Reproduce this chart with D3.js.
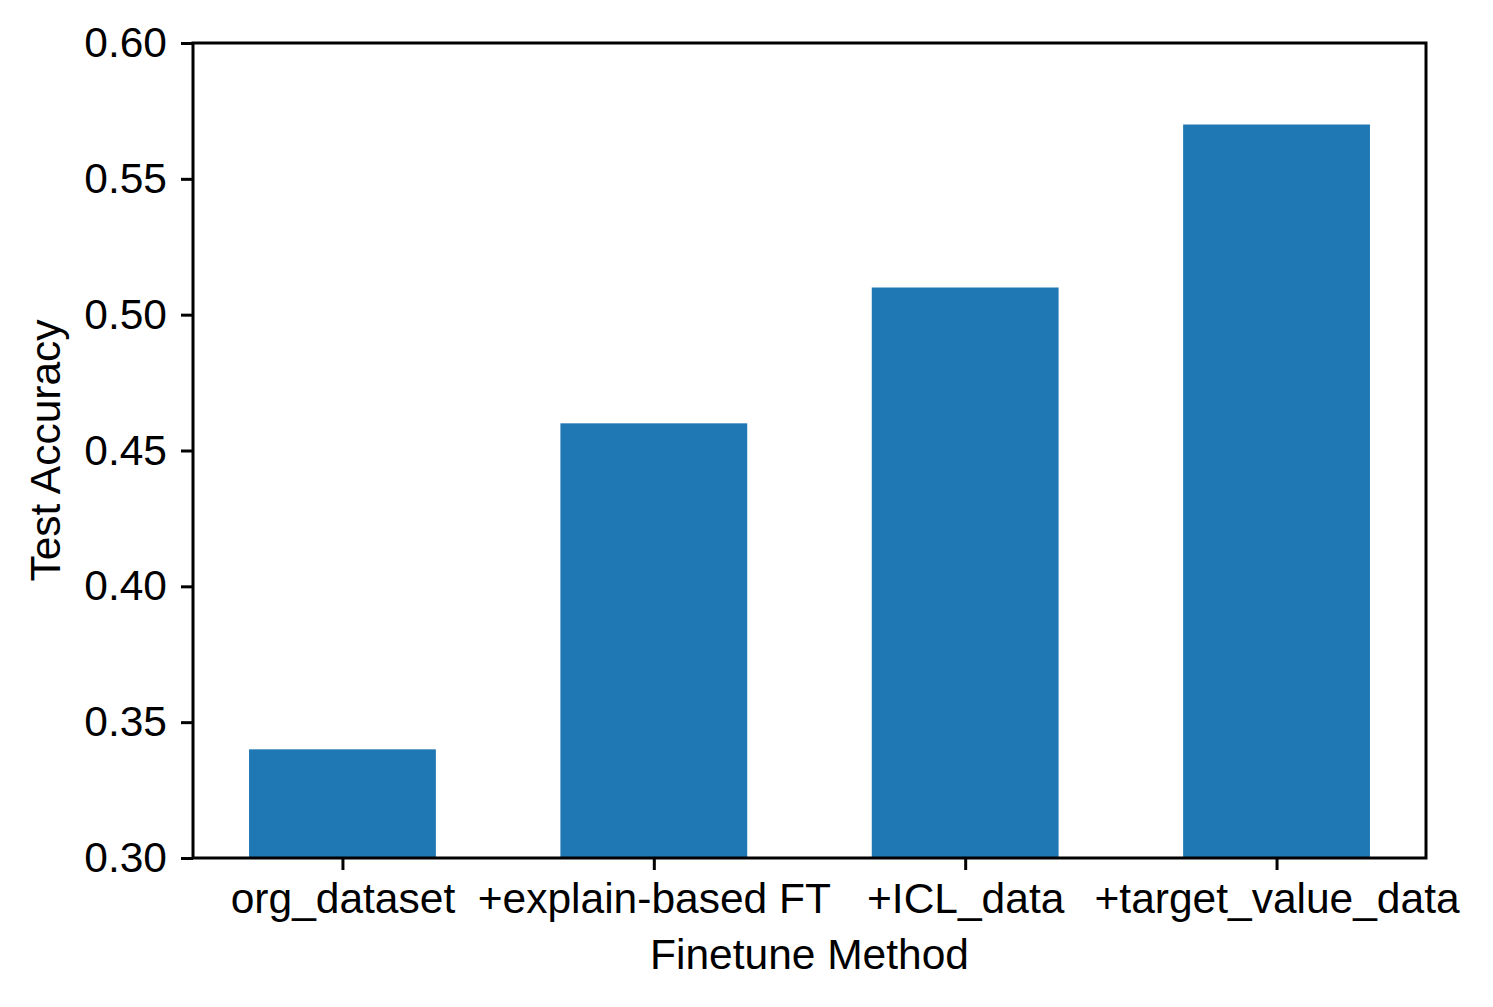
<!DOCTYPE html>
<html>
<head>
<meta charset="utf-8">
<script src="https://cdn.jsdelivr.net/npm/d3@7"></script>
<style>
html,body{margin:0;padding:0;background:#fff;}
svg{display:block;font-family:"Liberation Sans",Arial,Helvetica,sans-serif;}
</style>
</head>
<body>
<script>
const categories = ["org_dataset", "+explain-based FT", "+ICL_data", "+target_value_data"];
const values = [0.34, 0.46, 0.51, 0.57];
const yTicks = [0.30, 0.35, 0.40, 0.45, 0.50, 0.55, 0.60];
const xTitle = "Finetune Method";
const yTitle = "Test Accuracy";

const W = 1493, H = 1007;
const m = {left: 193, right: 1426, top: 43, bottom: 858};
const svg = d3.select("body").append("svg").attr("width", W).attr("height", H);

const x = d3.scaleLinear().domain([-0.48, categories.length - 1 + 0.48]).range([m.left, m.right]);
const y = d3.scaleLinear().domain([0.30, 0.60]).range([m.bottom, m.top]);
const barW = x(0.6) - x(0);

svg.append("g").selectAll("rect").data(values).join("rect")
  .attr("x", (d, i) => x(i - 0.3))
  .attr("y", d => y(d))
  .attr("width", barW)
  .attr("height", d => y(0.30) - y(d))
  .attr("fill", "#1f77b4");

const fs = 42.5;
const xAxis = svg.append("g").attr("transform", `translate(0,${m.bottom})`)
  .call(d3.axisBottom(x).tickValues(d3.range(categories.length)).tickFormat(i => categories[i]).tickSize(12).tickPadding(14));
const yAxis = svg.append("g").attr("transform", `translate(${m.left},0)`)
  .call(d3.axisLeft(y).tickValues(yTicks).tickFormat(d3.format(".2f")).tickSize(12).tickPadding(14));
[xAxis, yAxis].forEach(g => {
  g.select(".domain").remove();
  g.selectAll(".tick line").attr("stroke", "#000").attr("stroke-width", 3);
  g.selectAll(".tick text").attr("fill", "#000").attr("font-size", fs).attr("font-family", "Liberation Sans, Arial, sans-serif");
});
xAxis.selectAll(".tick text").attr("dy", "0.68em");

svg.append("rect").attr("x", m.left).attr("y", m.top)
  .attr("width", m.right - m.left).attr("height", m.bottom - m.top)
  .attr("fill", "none").attr("stroke", "#000").attr("stroke-width", 3);

svg.append("text").attr("x", (m.left + m.right) / 2).attr("y", 969)
  .attr("text-anchor", "middle").attr("font-size", fs).attr("fill", "#000").text(xTitle);
svg.append("text").attr("transform", `translate(60,${(m.top + m.bottom) / 2}) rotate(-90)`)
  .attr("text-anchor", "middle").attr("font-size", fs).attr("fill", "#000").text(yTitle);
</script>
</body>
</html>
